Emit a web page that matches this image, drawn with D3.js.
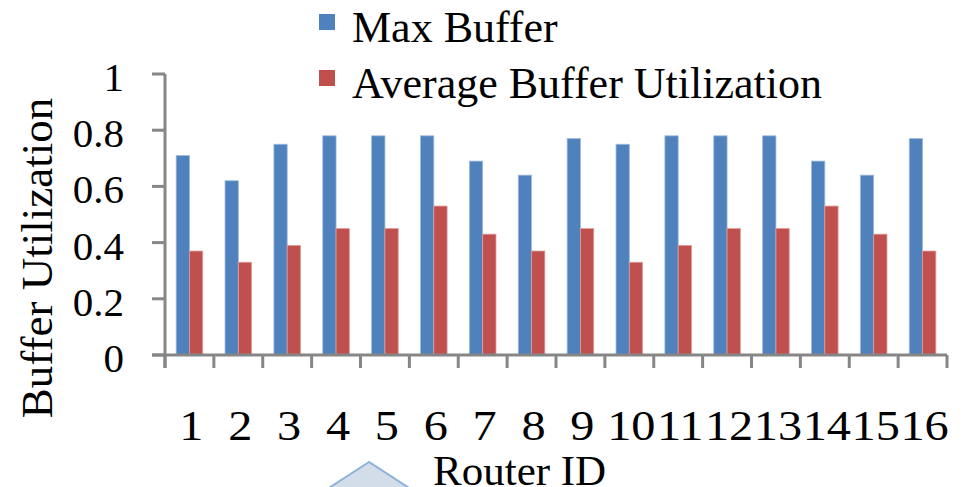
<!DOCTYPE html>
<html><head><meta charset="utf-8">
<script src="https://cdn.jsdelivr.net/npm/d3@7"></script>
<style>
html,body{margin:0;padding:0;background:#fff;}
svg{display:block;}
</style></head>
<body>
<svg id="chart" width="967" height="487"></svg>
<script>
const categories = ["1","2","3","4","5","6","7","8","9","10","11","12","13","14","15","16"];
const seriesNames = ["Max Buffer","Average Buffer Utilization"];
const maxBuffer = [0.71,0.62,0.75,0.78,0.78,0.78,0.69,0.64,0.77,0.75,0.78,0.78,0.78,0.69,0.64,0.77];
const avgBuffer = [0.37,0.33,0.39,0.45,0.45,0.53,0.43,0.37,0.45,0.33,0.39,0.45,0.45,0.53,0.43,0.37];
const yTicks = [0,0.2,0.4,0.6,0.8,1];
const colors = ["#4F81BD","#C0504D"];
const strokes = ["#9DB9DF","#DC9C9A"];

const FONT = "'Liberation Serif'";
const svg = d3.select("#chart");
const plotLeft = 165, plotRight = 947, plotTop = 74, plotBottom = 355;
const axisColor = "#868686";

const x = d3.scaleBand().domain(categories).range([plotLeft, plotRight]).padding(0);
const xs = d3.scaleBand().domain(seriesNames).range([0, x.bandwidth()]).paddingInner(0).paddingOuter(0.84);
const y = d3.scaleLinear().domain([0,1]).range([plotBottom, plotTop]);

const data = [maxBuffer, avgBuffer];

// bars
seriesNames.forEach((s, si) => {
  svg.append("g").selectAll("rect").data(categories).join("rect")
    .attr("x", d => x(d) + xs(s))
    .attr("y", (d,i) => y(data[si][i]))
    .attr("width", xs.bandwidth())
    .attr("height", (d,i) => y(0) - y(data[si][i]))
    .attr("fill", colors[si])
    .attr("stroke", strokes[si])
    .attr("stroke-width", 0.8);
});

// y axis
const yAxis = svg.append("g");
yAxis.append("line").attr("x1", plotLeft).attr("x2", plotLeft).attr("y1", y(1)).attr("y2", y(0) + 13)
  .attr("stroke", axisColor).attr("stroke-width", 3);
yAxis.selectAll(".yt").data(yTicks).join("line")
  .attr("x1", plotLeft - 13).attr("x2", plotLeft).attr("y1", d => y(d)).attr("y2", d => y(d))
  .attr("stroke", axisColor).attr("stroke-width", 3);
yAxis.selectAll("text").data(yTicks).join("text")
  .style("font-family", FONT)
  .attr("x", 124).attr("y", d => y(d) + 17)
  .attr("text-anchor", "end").attr("font-size", 41)
  .text(d => d3.format("")(d));

// x axis
const xAxis = svg.append("g");
xAxis.append("line").attr("x1", plotLeft - 13).attr("x2", plotRight).attr("y1", plotBottom).attr("y2", plotBottom)
  .attr("stroke", axisColor).attr("stroke-width", 3);
const bounds = categories.map(c => x(c)).concat([plotRight]);
xAxis.selectAll(".xt").data(bounds).join("line")
  .attr("x1", d => d).attr("x2", d => d).attr("y1", plotBottom).attr("y2", plotBottom + 13)
  .attr("stroke", axisColor).attr("stroke-width", 3);
xAxis.selectAll("text").data(categories).join("text")
  .style("font-family", FONT)
  .attr("transform", d => `translate(${x(d) + x.bandwidth()/2 + 2},440) scale(1.15,1)`)
  .attr("text-anchor", "middle").attr("font-size", 42)
  .text(d => d);

// decorative triangle shape
svg.append("polygon")
  .attr("points", "369,462 318,495 420,495")
  .attr("fill", "#D3DDE9").attr("stroke", "#8DB3D9").attr("stroke-width", 2);

// axis titles
svg.append("text").style("font-family", FONT)
  .attr("x", 433).attr("y", 485).attr("font-size", 43).text("Router ID");
svg.append("text").style("font-family", FONT)
  .attr("transform", "translate(52,258) rotate(-90)")
  .attr("text-anchor", "middle").attr("font-size", 45).text("Buffer Utilization");

// legend
const legend = svg.append("g");
seriesNames.forEach((s, i) => {
  const ly = 14 + i * 56;
  legend.append("rect").attr("x", 319).attr("y", ly).attr("width", 16).attr("height", 16)
    .attr("fill", colors[i]);
  legend.append("text").style("font-family", FONT)
    .attr("x", 352).attr("y", ly + 28).attr("font-size", 44).text(s);
});
</script>
</body></html>
